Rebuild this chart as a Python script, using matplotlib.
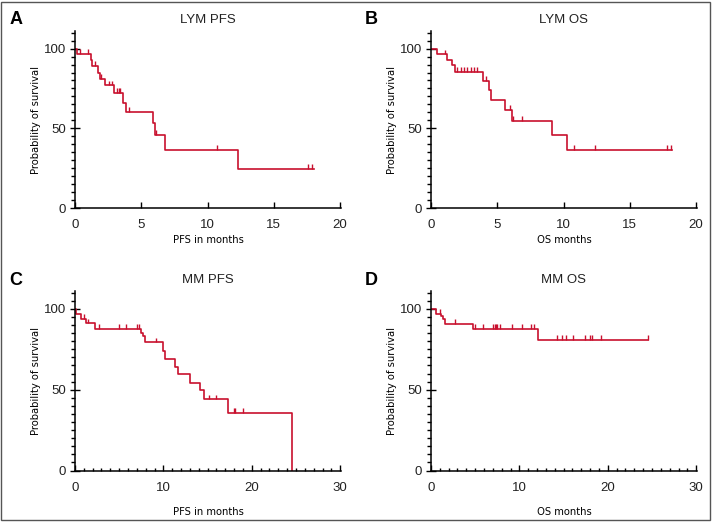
import numpy as np
import matplotlib
matplotlib.use("Agg")
import matplotlib.pyplot as plt
from matplotlib.ticker import MultipleLocator
from matplotlib.patches import Rectangle

# LYM PFS
a_times = [0.13, 1.2, 1.3, 1.76, 1.85, 2.26, 2.97, 3.6, 3.85, 5.89, 6.04, 6.82, 12.3]
a_surv = [96.6, 92.9, 89.3, 84.9, 81.1, 76.9, 72.3, 66.0, 60.2, 53.5, 45.9, 36.7, 24.5]
a_cens = [0.38, 0.96, 1.48, 1.96, 2.54, 2.77, 3.2, 3.32, 3.42, 4.05, 6.11, 10.7, 17.6, 17.9]
a_end = 18.0

# LYM OS
b_times = [0.43, 1.21, 1.56, 1.81, 3.9, 4.35, 4.5, 5.56, 6.11, 9.16, 10.26]
b_surv = [96.4, 92.9, 89.5, 85.5, 79.7, 73.8, 67.5, 61.4, 54.7, 45.5, 36.3]
b_cens = [1.03, 2.0, 2.25, 2.5, 2.75, 3.0, 3.25, 3.5, 4.15, 5.94, 6.21, 6.89, 10.8, 12.4, 17.8, 18.1]
b_end = 18.14

# MM PFS
c_times = [0.11, 0.64, 1.2, 2.27, 7.45, 7.7, 7.9, 9.96, 10.2, 11.3, 11.7, 13.0, 14.1, 14.6, 17.3, 24.5]
c_surv = [96.7, 94.0, 91.0, 87.7, 85.0, 83.3, 79.2, 74.2, 69.2, 64.2, 59.4, 54.2, 49.6, 44.0, 35.6, 0]
c_cens = [1.0, 1.5, 2.7, 5.0, 5.8, 7.0, 7.2, 9.2, 15.2, 16.0, 17.95, 18.1, 19.0]
c_end = 24.5

# MM OS
d_times = [0.57, 1.17, 1.33, 1.6, 4.7, 12.1]
d_surv = [96.9, 95.5, 94.0, 90.8, 87.5, 80.8]
d_cens = [1.06, 2.77, 5.0, 5.9, 7.0, 7.2, 7.3, 7.5, 7.8, 9.2, 10.3, 11.3, 11.7,
          14.2, 14.8, 15.3, 16.1, 17.4, 18.0, 18.2, 19.2, 24.5]
d_end = 24.5

RED = "#c8102e"
TICKFONT = ["Liberation Sans", "DejaVu Sans"]


def draw_km(ax, times, surv, cens, end):
    t = np.r_[0, times, end]
    s = np.r_[100, surv, surv[-1]]
    ax.step(t, s, where="post", color=RED, lw=1.2)
    idx = np.searchsorted(t, cens, side="right") - 1
    lev = s[idx]
    ax.vlines(cens, lev, lev + 3, color=RED, lw=1.0)


def style(ax, title, xlabel, xmax, xmajor, xminor, xlab_y):
    ax.set_xlim(0, xmax + xmax * 0.003)
    ax.set_ylim(0, 111)
    ax.spines["top"].set_visible(False)
    ax.spines["right"].set_visible(False)
    for sp in ("left", "bottom"):
        ax.spines[sp].set_linewidth(1.1)
    ax.xaxis.set_major_locator(MultipleLocator(xmajor))
    if xminor:
        ax.xaxis.set_minor_locator(MultipleLocator(xminor))
    ax.yaxis.set_major_locator(MultipleLocator(50))
    ax.yaxis.set_minor_locator(MultipleLocator(5))
    ax.tick_params(axis="x", which="major", direction="in", length=4, width=1, pad=8)
    ax.tick_params(axis="x", which="minor", direction="in", length=2, width=1)
    ax.tick_params(axis="y", which="major", direction="inout", length=7, width=1, pad=3)
    ax.tick_params(axis="y", which="minor", direction="out", length=3, width=1)
    for lab in ax.get_xticklabels() + ax.get_yticklabels():
        lab.set_family(TICKFONT)
        lab.set_fontsize(9.5)
        lab.set_color("#222222")
    ax.set_title(title, fontsize=9.5, family=TICKFONT, pad=6, color="#222222")
    ax.set_xlabel(xlabel, fontsize=8, family="DejaVu Sans", fontstretch="condensed")
    ax.set_ylabel("Probability of survival", fontsize=8, family="DejaVu Sans",
                  fontstretch="condensed")
    ax.xaxis.set_label_coords(0.5, xlab_y)
    ax.yaxis.set_label_coords(-0.128, 0.5)


fig = plt.figure(figsize=(7.12, 5.22), dpi=100)

axA = fig.add_axes([0.1053, 0.6015, 0.3736, 0.3390])
axB = fig.add_axes([0.6053, 0.6015, 0.3736, 0.3390])
axC = fig.add_axes([0.1053, 0.0985, 0.3736, 0.3440])
axD = fig.add_axes([0.6053, 0.0985, 0.3736, 0.3440])

draw_km(axA, a_times, a_surv, a_cens, a_end)
draw_km(axB, b_times, b_surv, b_cens, b_end)
draw_km(axC, c_times, c_surv, c_cens, c_end)
draw_km(axD, d_times, d_surv, d_cens, d_end)

style(axA, "LYM PFS", "PFS in months", 20, 5, None, -0.15)
style(axB, "LYM OS", "OS months", 20, 5, None, -0.15)
style(axC, "MM PFS", "PFS in months", 30, 10, 1, -0.205)
style(axD, "MM OS", "OS months", 30, 10, 1, -0.205)

for letter, x, y in [("A", 0.013, 0.963), ("B", 0.512, 0.963), ("C", 0.013, 0.463), ("D", 0.512, 0.463)]:
    fig.text(x, y, letter, fontsize=13, fontweight="bold", family=TICKFONT, va="center")

fig.patches.append(Rectangle((0.002, 0.003), 0.995, 0.993, transform=fig.transFigure,
                             fill=False, edgecolor="#555555", lw=1))

fig.savefig("out.png", dpi=100)
